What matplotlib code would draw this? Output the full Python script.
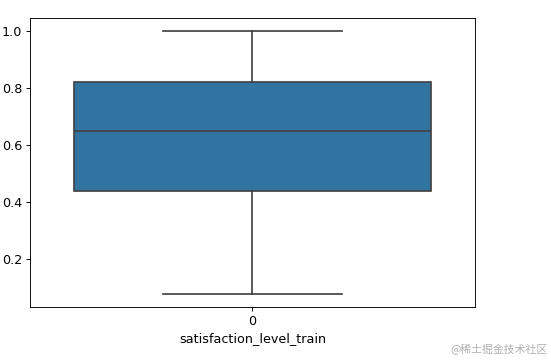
import matplotlib.pyplot as plt

# box summary
x_label = "satisfaction_level_train"
positions = [0]
whislo = [0.077]
q1 = [0.44]
med = [0.648]
q3 = [0.82]
whishi = [1.0]

stats = []
for i in range(len(positions)):
    stats.append({"whislo": whislo[i], "q1": q1[i], "med": med[i],
                  "q3": q3[i], "whishi": whishi[i], "fliers": []})

plt.rcParams["font.size"] = 11.2

dpi = 82
fig = plt.figure(figsize=(551 / dpi, 361 / dpi), dpi=dpi)
ax = fig.add_axes([30 / 551, 1 - 307 / 361, 445 / 551, 289 / 361])

line_kw = dict(color="#424242", linewidth=1.5)
ax.bxp(stats, positions=positions, widths=0.8, patch_artist=True,
       showfliers=False,
       boxprops=dict(facecolor="#3274a1", edgecolor="#424242", linewidth=1.5),
       medianprops=line_kw, whiskerprops=line_kw, capprops=line_kw,
       capwidths=0.4)

ax.set_xlim(-0.5, 0.5)
ax.set_ylim(0.031, 1.046)
ax.set_xticks(positions)
ax.set_xticklabels(["0"])
ax.set_yticks([0.2, 0.4, 0.6, 0.8, 1.0])
ax.set_xlabel(x_label)

fig.text(0.993, 0.015, "@稀土掘金技术社区", ha="right", va="bottom",
         color="#b0b0b0", fontsize=9.5, family=["Noto Sans CJK SC", "DejaVu Sans"])

fig.savefig("out.png", dpi=dpi)
